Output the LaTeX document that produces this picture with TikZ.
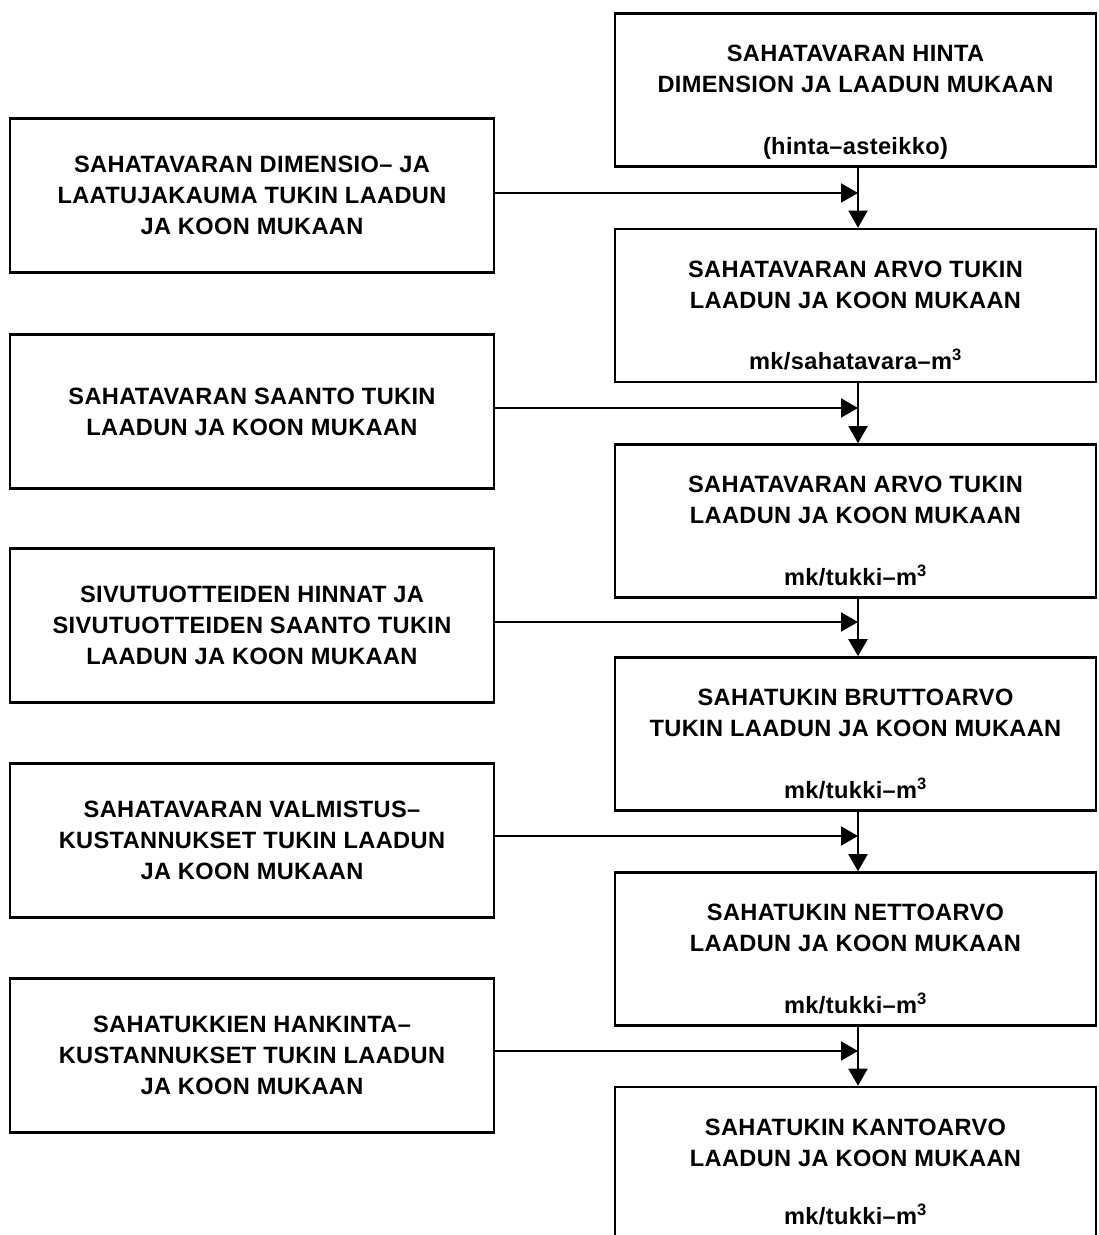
\documentclass[tikz,border=0pt]{standalone}
\usepackage{fontspec}
\newfontfamily\boxfont{Liberation Sans Bold}[LetterSpace=1.5]
\usetikzlibrary{arrows.meta}
\tikzset{
  box/.style={draw, line width=2.6pt, rectangle, inner sep=0pt},
  lbox/.style={box, minimum width=484pt, minimum height=154pt, align=center,
    font=\boxfont\fontsize{23.6}{31}\selectfont},
  rbox/.style={box, minimum width=481pt, minimum height=153pt},
  ttl/.style={align=center, inner sep=0pt, font=\boxfont\fontsize{23.6}{31}\selectfont},
  unit/.style={anchor=base, inner sep=0pt, font=\boxfont\fontsize{23.6}{31}\selectfont},
  arr/.style={line width=2pt, -{Triangle[length=17pt,width=19pt]}},
}
\begin{document}
\begin{tikzpicture}[x=1pt,y=1pt]
\useasboundingbox (0,0) rectangle (1099,1235);
\clip (0,0) rectangle (1099,1235);
% right column
\node[rbox] (r1) at (855.5,1145) {};
\node[rbox] (r2) at (855.5,929.5) {};
\node[rbox] (r3) at (855.5,714) {};
\node[rbox] (r4) at (855.5,501) {};
\node[rbox] (r5) at (855.5,286) {};
\node[rbox, minimum height=170pt] (r6) at (855.5,63) {};
\foreach \n/\a/\b/\u in {
  r1/{SAHATAVARAN HINTA}/{DIMENSION JA LAADUN MUKAAN}/{(hinta–asteikko)},
  r2/{SAHATAVARAN ARVO TUKIN}/{LAADUN JA KOON MUKAAN}/{mk/sahatavara–m\textsuperscript{3}},
  r3/{SAHATAVARAN ARVO TUKIN}/{LAADUN JA KOON MUKAAN}/{mk/tukki–m\textsuperscript{3}},
  r4/{SAHATUKIN BRUTTOARVO}/{TUKIN LAADUN JA KOON MUKAAN}/{mk/tukki–m\textsuperscript{3}},
  r5/{SAHATUKIN NETTOARVO}/{LAADUN JA KOON MUKAAN}/{mk/tukki–m\textsuperscript{3}}}{
  \node[ttl] (\n t) at ([yshift=-57pt]\n.north) {\a\\\b};
  \node[unit] (\n u) at ([yshift=-142pt]\n.north) {\u};
}
\node[ttl] (r6t) at ([yshift=-57pt]r6.north) {SAHATUKIN KANTOARVO\\LAADUN JA KOON MUKAAN};
\node[unit] (r6u) at ([yshift=-139pt]r6.north) {mk/tukki–m\textsuperscript{3}};
% left column
\node[lbox] (l1) at (252,1039.5) {SAHATAVARAN DIMENSIO– JA\\LAATUJAKAUMA TUKIN LAADUN\\JA KOON MUKAAN};
\node[lbox] (l2) at (252,823.5) {SAHATAVARAN SAANTO TUKIN\\LAADUN JA KOON MUKAAN};
\node[lbox] (l3) at (252,609.5) {SIVUTUOTTEIDEN HINNAT JA\\SIVUTUOTTEIDEN SAANTO TUKIN\\LAADUN JA KOON MUKAAN};
\node[lbox] (l4) at (252,394.5) {SAHATAVARAN VALMISTUS–\\KUSTANNUKSET TUKIN LAADUN\\JA KOON MUKAAN};
\node[lbox] (l5) at (252,179.5) {SAHATUKKIEN HANKINTA–\\KUSTANNUKSET TUKIN LAADUN\\JA KOON MUKAAN};
% connectors
\coordinate (spine) at (858,0);
\coordinate (j1) at (858,1042);
\coordinate (j2) at (858,827);
\coordinate (j3) at (858,613);
\coordinate (j4) at (858,399);
\coordinate (j5) at (858,184);
\draw[arr] (r1.south -| spine) -- (r2.north -| spine);
\draw[arr] (r2.south -| spine) -- (r3.north -| spine);
\draw[arr] (r3.south -| spine) -- (r4.north -| spine);
\draw[arr] (r4.south -| spine) -- (r5.north -| spine);
\draw[arr] (r5.south -| spine) -- (r6.north -| spine);
\draw[arr] (l1.east |- j1) -- (j1);
\draw[arr] (l2.east |- j2) -- (j2);
\draw[arr] (l3.east |- j3) -- (j3);
\draw[arr] (l4.east |- j4) -- (j4);
\draw[arr] (l5.east |- j5) -- (j5);
\end{tikzpicture}
\end{document}
